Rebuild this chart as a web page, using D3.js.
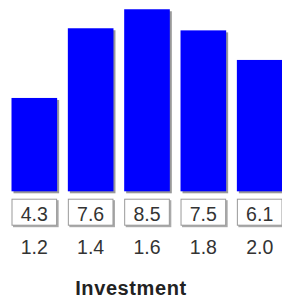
<!DOCTYPE html>
<html>
<head>
<meta charset="utf-8">
<script src="https://cdn.jsdelivr.net/npm/d3@7"></script>
<style>
  html, body { margin: 0; padding: 0; background: #fff; overflow: hidden; }
  svg { display: block; font-family: "Liberation Sans", Arial, sans-serif; }
</style>
</head>
<body>
<svg id="chart"></svg>
<script>
const categories = ["1.2", "1.4", "1.6", "1.8", "2.0"];
const values = [4.3, 7.6, 8.5, 7.5, 6.1];
const xTitle = "Investment";

const width = 282;
const height = 303;

const svg = d3.select("#chart")
    .attr("width", width)
    .attr("height", height);

// soft shadow behind bars and boxes
const defs = svg.append("defs");
defs.append("filter")
    .attr("id", "blur")
    .attr("x", "-20%").attr("y", "-20%")
    .attr("width", "140%").attr("height", "140%")
    .append("feGaussianBlur")
    .attr("stdDeviation", 0.6);

const x = d3.scaleBand()
    .domain(categories)
    .range([11.5, 282.5])
    .paddingInner(0.19)
    .paddingOuter(0);

const y = d3.scaleLinear()
    .domain([-0.12, 9])
    .range([191.3, -1.3]);

const bars = svg.append("g");

bars.selectAll(".shadow")
    .data(values)
    .join("rect")
    .attr("class", "shadow")
    .attr("x", (d, i) => x(categories[i]) + 2)
    .attr("y", d => y(d) + 2)
    .attr("width", x.bandwidth())
    .attr("height", d => y(-0.12) - y(d))
    .attr("fill", "#999")
    .attr("filter", "url(#blur)");

bars.selectAll(".bar")
    .data(values)
    .join("rect")
    .attr("class", "bar")
    .attr("x", (d, i) => x(categories[i]))
    .attr("y", d => y(d))
    .attr("width", x.bandwidth())
    .attr("height", d => y(-0.12) - y(d))
    .attr("fill", "#0000ff");

// value boxes under the bars
const boxTop = 198.7;
const boxH = 27;
const boxes = svg.append("g")
    .selectAll("g")
    .data(values)
    .join("g")
    .attr("transform", (d, i) => `translate(${x(categories[i])},${boxTop})`);

boxes.append("rect")
    .attr("x", 1.5).attr("y", 1.5)
    .attr("width", x.bandwidth())
    .attr("height", boxH)
    .attr("fill", "#aaa")
    .attr("filter", "url(#blur)");

boxes.append("rect")
    .attr("x", 0.5).attr("y", 0.5)
    .attr("width", x.bandwidth() - 1)
    .attr("height", boxH - 1)
    .attr("fill", "#fff")
    .attr("stroke", "#999");

boxes.append("text")
    .attr("x", x.bandwidth() / 2)
    .attr("y", 22.3)
    .attr("text-anchor", "middle")
    .attr("font-size", "19.5px")
    .attr("fill", "#333")
    .text(d => d.toFixed(1));

// category axis
svg.append("g")
    .attr("transform", "translate(0,254)")
    .call(d3.axisBottom(x).tickSize(0).tickPadding(0))
    .call(g => g.select(".domain").remove())
    .call(g => g.selectAll("text")
        .attr("dy", 0)
        .attr("font-family", "Liberation Sans, Arial, sans-serif")
        .attr("font-size", "19.5px")
        .attr("fill", "#333"));

svg.append("text")
    .attr("x", 131)
    .attr("y", 295)
    .attr("text-anchor", "middle")
    .attr("font-size", "20px")
    .attr("letter-spacing", "0.6px")
    .attr("font-weight", "bold")
    .attr("fill", "#222")
    .text(xTitle);
</script>
</body>
</html>
